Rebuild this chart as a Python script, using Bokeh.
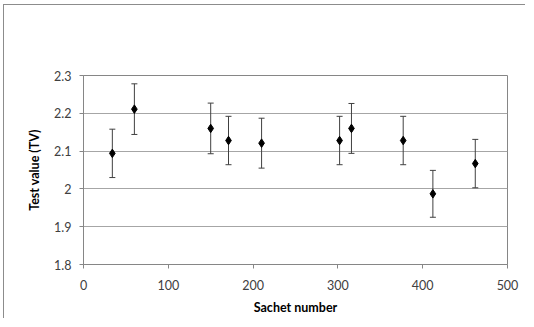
from bokeh.plotting import figure
from bokeh.models import ColumnDataSource, Whisker, TeeHead, Range1d, FixedTicker
from bokeh.embed import file_html
from bokeh.resources import INLINE

# Data
sachet = [34, 60, 150, 171, 210, 302, 316, 377, 412, 462]
test_value = [2.094, 2.211, 2.160, 2.128, 2.121, 2.128, 2.160, 2.128, 1.987, 2.067]
error = [0.064, 0.067, 0.067, 0.064, 0.066, 0.064, 0.066, 0.064, 0.062, 0.064]
y_ticks = [1.8, 1.9, 2.0, 2.1, 2.2, 2.3]
y_tick_labels = ["1.8", "1.9", "2", "2.1", "2.2", "2.3"]
x_ticks = [0, 100, 200, 300, 400, 500]

src = ColumnDataSource(dict(
    x=sachet, y=test_value,
    lower=[v - e for v, e in zip(test_value, error)],
    upper=[v + e for v, e in zip(test_value, error)],
))

FONT = "Lato"
AXIS_COLOR = "#868686"

p = figure(width=522, height=314, output_backend="svg", toolbar_location=None,
           x_range=Range1d(0, 500), y_range=Range1d(1.8, 2.3),
           min_border_left=79, min_border_right=19, min_border_top=70, min_border_bottom=55)
p.styles = {"margin-left": "3px", "margin-top": "4px",
            "border-left": "1px solid #8c8c8c", "border-top": "1px solid #8c8c8c"}

p.outline_line_color = AXIS_COLOR
p.outline_line_width = 1
p.xgrid.visible = False
p.ygrid.grid_line_color = "#a6a6a6"
p.ygrid.grid_line_width = 1
p.ygrid.ticker = FixedTicker(ticks=y_ticks)

for ax in (p.xaxis[0], p.yaxis[0]):
    ax.axis_line_color = AXIS_COLOR
    ax.major_tick_line_color = AXIS_COLOR
    ax.major_tick_out = 4
    ax.major_tick_in = 0
    ax.minor_tick_line_color = None
    ax.major_label_text_font = FONT
    ax.major_label_text_font_size = "12.5px"
    ax.major_label_text_color = "#404040"
    ax.axis_label_text_font = FONT
    ax.axis_label_text_font_size = "12.5px"
    ax.axis_label_text_font_style = "bold"
    ax.axis_label_text_color = "#000000"

p.xaxis.ticker = FixedTicker(ticks=x_ticks)
p.yaxis.ticker = FixedTicker(ticks=y_ticks)
p.yaxis.major_label_overrides = {t: l for t, l in zip(y_ticks, y_tick_labels)}
p.xaxis.axis_label = "Sachet number"
p.yaxis.axis_label = "Test value (TV)"
p.xaxis.major_label_standoff = 11
p.yaxis.major_label_standoff = 8
p.xaxis.axis_label_standoff = 7
p.yaxis.axis_label_standoff = 9

w = Whisker(base="x", lower="lower", upper="upper", source=src,
            line_color="#404040", line_width=1,
            upper_head=TeeHead(size=6, line_color="#404040", line_width=1),
            lower_head=TeeHead(size=6, line_color="#404040", line_width=1))
p.add_layout(w)

p.scatter("x", "y", source=src, marker="diamond", size=8.5,
          fill_color="black", line_color="black")

open("out.html", "w").write(file_html(p, INLINE))
